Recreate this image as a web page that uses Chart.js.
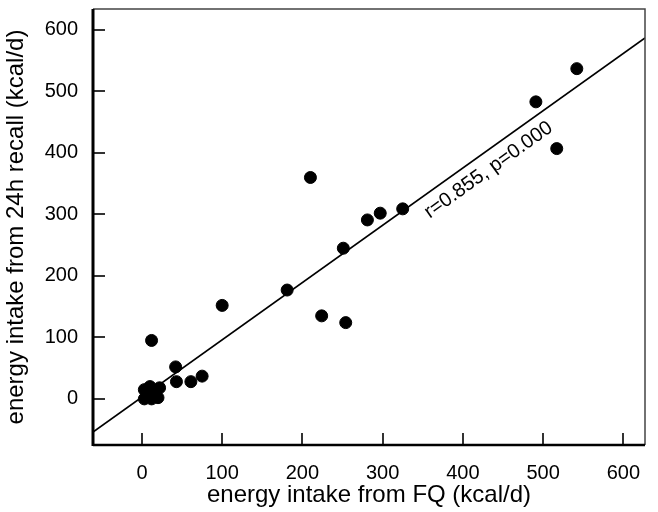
<!DOCTYPE html>
<html>
<head>
<meta charset="utf-8">
<script src="https://cdn.jsdelivr.net/npm/chart.js@4/dist/chart.umd.min.js"></script>
<style>
  body { margin: 0; background: #fff; }
  canvas { display: block; }
</style>
</head>
<body>
<canvas id="c" width="658" height="512"></canvas>
<script>
// energy intake, FQ (x) vs 24h recall (y), kcal/d
var fqValues = [3, 3, 10, 12, 20, 22, 15, 12, 42, 43, 61, 75, 100, 181, 210, 224, 251, 254, 281, 297, 325, 491, 517, 542];
var recallValues = [0, 15, 20, 0, 2, 18, 10, 95, 52, 28, 28, 37, 152, 177, 360, 135, 245, 124, 291, 302, 309, 483, 407, 537];

// regression line end points
var fitX = [-61, 627];
var fitY = [-54, 587];

var tickValues = [0, 100, 200, 300, 400, 500, 600];
var statText = "r=0.855, p=0.000";

var font = "'Liberation Sans', Arial, Helvetica, sans-serif";

function pairs(xs, ys) {
    var out = [];
    for (var i = 0; i < xs.length; i++) {
        out.push({ x: xs[i], y: ys[i] });
    }
    return out;
}

var frameAndTicks = {
    id: 'frameAndTicks',
    afterDatasetsDraw: function (chart) {
        var ctx = chart.ctx;
        var a = chart.chartArea;
        var xs = chart.scales.x, ys = chart.scales.y;
        ctx.save();
        // inward tick marks
        ctx.strokeStyle = '#333';
        ctx.lineWidth = 2;
        tickValues.forEach(function (v) {
            var px = Math.round(xs.getPixelForValue(v));
            ctx.beginPath();
            ctx.moveTo(px, a.bottom);
            ctx.lineTo(px, a.bottom - 12);
            ctx.stroke();
            var py = Math.round(ys.getPixelForValue(v));
            ctx.beginPath();
            ctx.moveTo(a.left, py);
            ctx.lineTo(a.left + 12, py);
            ctx.stroke();
        });
        // frame
        ctx.strokeStyle = '#444';
        ctx.lineWidth = 1.5;
        ctx.beginPath();
        ctx.moveTo(a.left, a.top);
        ctx.lineTo(a.right, a.top);
        ctx.lineTo(a.right, a.bottom);
        ctx.stroke();
        ctx.strokeStyle = '#000';
        ctx.lineWidth = 2.5;
        ctx.beginPath();
        ctx.moveTo(a.right, a.bottom);
        ctx.lineTo(a.left, a.bottom);
        ctx.stroke();
        ctx.lineWidth = 3;
        ctx.beginPath();
        ctx.moveTo(a.left, a.bottom + 1);
        ctx.lineTo(a.left, a.top);
        ctx.stroke();

        // correlation label along the fitted line
        var x0 = xs.getPixelForValue(fitX[0]), y0 = ys.getPixelForValue(fitY[0]);
        var x1 = xs.getPixelForValue(fitX[1]), y1 = ys.getPixelForValue(fitY[1]);
        var angle = Math.atan2(y1 - y0, x1 - x0);
        ctx.translate(xs.getPixelForValue(432), ys.getPixelForValue(372));
        ctx.rotate(angle);
        ctx.fillStyle = '#000';
        ctx.font = '20px ' + font;
        ctx.textAlign = 'center';
        ctx.textBaseline = 'middle';
        ctx.fillText(statText, 0, 0);
        ctx.restore();
    }
};

new Chart(document.getElementById('c'), {
    type: 'scatter',
    data: {
        datasets: [
            {
                label: 'fit',
                type: 'line',
                data: pairs(fitX, fitY),
                borderColor: '#000',
                borderWidth: 1.6,
                pointRadius: 0,
                fill: false
            },
            {
                label: 'subjects',
                data: pairs(fqValues, recallValues),
                backgroundColor: '#000',
                borderColor: '#000',
                borderWidth: 1,
                pointRadius: 6,
                pointHoverRadius: 6
            }
        ]
    },
    options: {
        responsive: false,
        animation: false,
        events: [],
        layout: { padding: { top: 9, right: 13, left: 0, bottom: 0 } },
        plugins: { legend: { display: false }, tooltip: { enabled: false } },
        scales: {
            x: {
                type: 'linear',
                min: -61,
                max: 627,
                afterBuildTicks: function (s) { s.ticks = tickValues.map(function (v) { return { value: v }; }); },
                afterFit: function (s) { s.height = 67; s.paddingLeft = 0; s.paddingRight = 0; },
                grid: { display: false },
                border: { display: false },
                ticks: { color: '#000', font: { family: font, size: 20 }, padding: 8, maxRotation: 0 },
                title: { display: true, text: 'energy intake from FQ (kcal/d)', color: '#000', font: { family: font, size: 24 }, padding: 2 }
            },
            y: {
                type: 'linear',
                min: -75,
                max: 634,
                afterBuildTicks: function (s) { s.ticks = tickValues.map(function (v) { return { value: v }; }); },
                afterFit: function (s) { s.width = 93; s.paddingTop = 0; s.paddingBottom = 0; },
                grid: { display: false },
                border: { display: false },
                ticks: { color: '#000', font: { family: font, size: 20 }, padding: 7 },
                title: { display: true, text: 'energy intake from 24h recall (kcal/d)', color: '#000', font: { family: font, size: 24 }, padding: 2 }
            }
        }
    },
    plugins: [frameAndTicks]
});
</script>
</body>
</html>
